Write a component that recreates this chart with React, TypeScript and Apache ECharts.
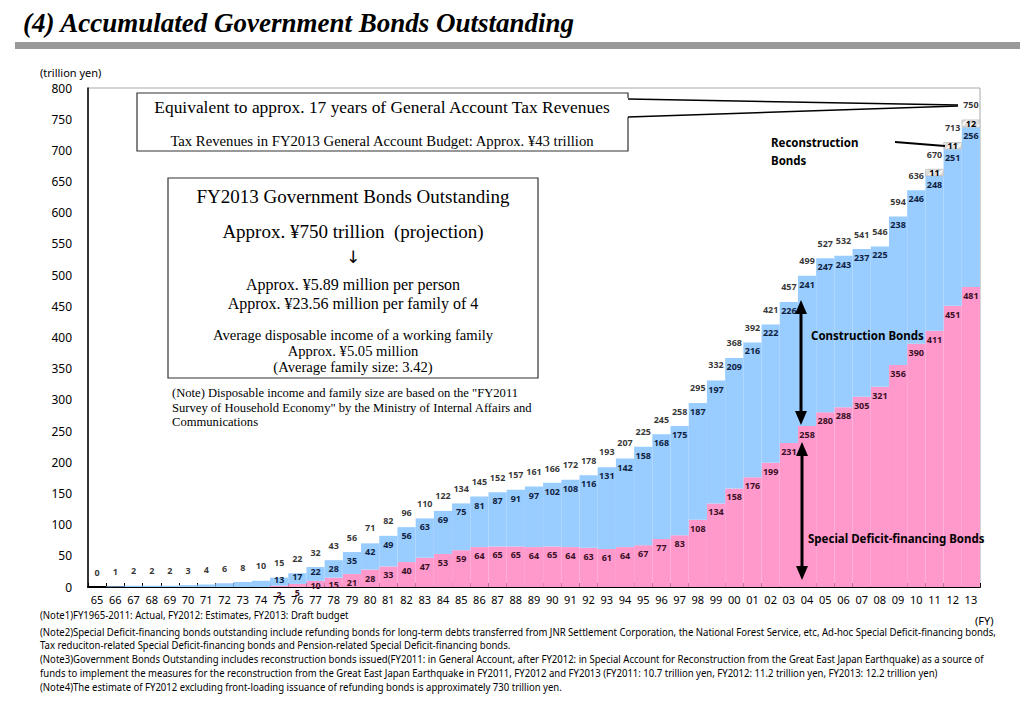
import React, { useEffect, useRef } from "react";
import * as echarts from "echarts";

const years = ["65","66","67","68","69","70","71","72","73","74","75","76","77","78","79","80","81","82","83","84","85","86","87","88","89","90","91","92","93","94","95","96","97","98","99","00","01","02","03","04","05","06","07","08","09","10","11","12","13"];

const totalOutstanding = [0,1,2,2,2,3,4,6,8,10,15,22,32,43,56,71,82,96,110,122,134,145,152,157,161,166,172,178,193,207,225,245,258,295,332,368,392,421,457,499,527,532,541,546,594,636,670,713,750];

const constructionBonds = [0,1,2,2,2,3,4,6,8,10,13,17,22,28,35,42,49,56,63,69,75,81,87,91,97,102,108,116,131,142,158,168,175,187,197,209,216,222,226,241,247,243,237,225,238,246,248,251,256];

const deficitBonds = [0,0,0,0,0,0,0,0,0,0,2,5,10,15,21,28,33,40,47,53,59,64,65,65,64,65,64,63,61,64,67,77,83,108,134,158,176,199,231,258,280,288,305,321,356,390,411,451,481];

const reconstructionBonds = [null,null,null,null,null,null,null,null,null,null,null,null,null,null,null,null,null,null,null,null,null,null,null,null,null,null,null,null,null,null,null,null,null,null,null,null,null,null,null,null,null,null,null,null,null,null,11,11,12];

// first year index (FY1975) from which the breakdown is labelled
const firstLabelledIndex = 10;

const yTicks = { min: 0, max: 800, interval: 50 };

const notes = [
  "(Note1)FY1965-2011: Actual, FY2012: Estimates, FY2013: Draft budget",
  "(Note2)Special Deficit-financing bonds outstanding include refunding bonds for long-term debts transferred from JNR Settlement Corporation, the National Forest Service, etc, Ad-hoc Special Deficit-financing bonds,",
  "Tax reduciton-related Special Deficit-financing bonds and Pension-related Special Deficit-financing bonds.",
  "(Note3)Government Bonds Outstanding includes reconstruction bonds issued(FY2011: in General Account, after FY2012: in Special Account for Reconstruction from the Great East Japan Earthquake) as a source of",
  "funds to implement the measures for the reconstruction from the Great East Japan Earthquake in FY2011, FY2012 and FY2013 (FY2011: 10.7 trillion yen, FY2012: 11.2 trillion yen, FY2013: 12.2 trillion yen)",
  "(Note4)The estimate of FY2012 excluding front-loading issuance of refunding bonds is approximately 730 trillion yen.",
];
const noteY = [615, 632, 645, 659, 673, 687];

const SANS = "Noto Sans";
const SERIF = "Liberation Serif";

function arrow(x: number, y1: number, y2: number) {
  const hw = 6, hh = 14;
  return [
    { type: "line", z: 110, shape: { x1: x, y1: y1 + hh - 2, x2: x, y2: y2 - hh + 2 }, style: { stroke: "#000", lineWidth: 3 } },
    { type: "polygon", z: 110, shape: { points: [[x - hw, y1 + hh], [x, y1], [x + hw, y1 + hh]] }, style: { fill: "#000" } },
    { type: "polygon", z: 110, shape: { points: [[x - hw, y2 - hh], [x, y2], [x + hw, y2 - hh]] }, style: { fill: "#000" } },
  ];
}

function txt(text: string, x: number, y: number, size: number, opts: any = {}) {
  return {
    type: "text",
    z: 120,
    x,
    y,
    scaleX: opts.scaleX || 1,
    style: {
      text,
      fontSize: size,
      fontFamily: opts.family || SERIF,
      fontWeight: opts.weight || "normal",
      fontStyle: opts.style || "normal",
      fill: opts.color || "#000",
      align: opts.align || "left",
      verticalAlign: "middle",
    },
  };
}

export default function App() {
  const ref = useRef<HTMLDivElement>(null);
  useEffect(() => {
    if (!ref.current) return;
    const chart = echarts.init(ref.current, null, { renderer: "svg" });
    const labelFont = { fontFamily: SANS, fontSize: 9, fontWeight: "bold" as const };

    // small segments (early years) carry their label centred in the segment
    const constructionData = constructionBonds.map((v, i) =>
      i >= firstLabelledIndex && totalOutstanding[i] < 35 ? { value: v, label: { position: "inside", offset: [0, -2] } } : v
    );
    const deficitData = deficitBonds.map((v) =>
      v >= 8 && v < 25 ? { value: v, label: { position: "inside", offset: [0, 2] } } : v
    );

    const graphic: any[] = [
      txt("(4) Accumulated Government Bonds Outstanding", 23, 23, 27, { weight: "bold", style: "italic" }),
      { type: "rect", z: 100, shape: { x: 15, y: 42, width: 1005, height: 7 }, style: { fill: "#999" } },
      txt("(trillion yen)", 40, 72, 11, { family: SANS }),
      // box 1
      { type: "rect", z: 100, shape: { x: 137, y: 93, width: 491, height: 58 }, style: { fill: "#fff", stroke: "none" } },
      { type: "polyline", z: 101, shape: { points: [[628, 98], [628, 93], [137, 93], [137, 151], [628, 151], [628, 117]] }, style: { stroke: "#333", lineWidth: 1.2, fill: "none" } },
      { type: "line", z: 101, shape: { x1: 628, y1: 99, x2: 958, y2: 105 }, style: { stroke: "#000", lineWidth: 1.5 } },
      { type: "line", z: 101, shape: { x1: 628, y1: 117, x2: 958, y2: 106 }, style: { stroke: "#000", lineWidth: 1.5 } },
      txt("Equivalent to approx. 17 years of General Account Tax Revenues", 382, 107, 17.4, { align: "center" }),
      txt("Tax Revenues in FY2013 General Account Budget: Approx. ¥43 trillion", 382, 141, 14.7, { align: "center" }),
      // box 2
      { type: "rect", z: 100, shape: { x: 168, y: 178, width: 370, height: 200 }, style: { fill: "#fff", stroke: "#333", lineWidth: 1.2 } },
      txt("FY2013 Government Bonds Outstanding", 353, 196, 19, { align: "center" }),
      txt("Approx. ¥750 trillion  (projection)", 353, 231, 19, { align: "center" }),
      txt("↓", 353, 257, 17, { align: "center", family: "DejaVu Sans" }),
      txt("Approx. ¥5.89 million per person", 353, 284, 16, { align: "center" }),
      txt("Approx. ¥23.56 million per family of 4", 353, 303, 16, { align: "center" }),
      txt("Average disposable income of a working family", 353, 335, 14.6, { align: "center" }),
      txt("Approx. ¥5.05 million", 353, 351, 14.6, { align: "center" }),
      txt("(Average family size: 3.42)", 353, 367, 14.6, { align: "center" }),
      txt("(Note) Disposable income and family size are based on the \"FY2011", 172, 393, 12.6),
      txt("Survey of Household Economy\" by the Ministry of Internal Affairs and", 172, 408, 12.6),
      txt("Communications", 172, 422, 12.6),
      // series annotations
      txt("Reconstruction", 771, 142, 11.5, { family: SANS, weight: "bold" }),
      txt("Bonds", 771, 160, 11.5, { family: SANS, weight: "bold" }),
      { type: "line", z: 110, shape: { x1: 895, y1: 142, x2: 945, y2: 146 }, style: { stroke: "#000", lineWidth: 2 } },
      txt("Construction Bonds", 811, 335, 11.5, { family: SANS, weight: "bold" }),
      txt("Special Deficit-financing Bonds", 808, 538, 11.5, { family: SANS, weight: "bold" }),
      ...arrow(801, 300, 425),
      ...arrow(802, 442, 580),
      txt("(FY)", 975, 620, 11, { family: SANS }),
      ...notes.map((n, i) => txt(n, 40, noteY[i], 10, { family: SANS, scaleX: 0.955 })),
    ];

    chart.setOption({
      animation: false,
      backgroundColor: "#fff",
      textStyle: { fontFamily: SANS },
      grid: { left: 88, right: 48, top: 88, bottom: 121, show: true, borderColor: "#aaa", borderWidth: 1 },
      xAxis: {
        type: "category",
        data: years,
        axisLine: { lineStyle: { color: "#000", width: 2 } },
        axisTick: { show: true, inside: true, length: 4, lineStyle: { color: "#000" } },
        axisLabel: { interval: 0, fontSize: 11, color: "#000", margin: 7, fontFamily: SANS },
      },
      yAxis: {
        type: "value",
        min: yTicks.min,
        max: yTicks.max,
        interval: yTicks.interval,
        axisLine: { show: true, lineStyle: { color: "#000", width: 1.5 } },
        axisTick: { show: false },
        splitLine: { show: false },
        axisLabel: { fontSize: 12, color: "#000", margin: 16, fontFamily: SANS },
      },
      series: [
        {
          name: "Special Deficit-financing Bonds",
          type: "bar",
          stack: "bonds",
          barWidth: "100%",
          barCategoryGap: "0%",
          data: deficitData,
          itemStyle: { color: "#FF99CC" },
          label: {
            show: true,
            position: "insideTop",
            distance: 4,
            color: "#3a0f25",
            ...labelFont,
            formatter: (p: any) => (p.dataIndex >= firstLabelledIndex && p.value > 0 ? String(p.value) : ""),
          },
        },
        {
          name: "Construction Bonds",
          type: "bar",
          stack: "bonds",
          barWidth: "100%",
          barCategoryGap: "0%",
          data: constructionData,
          itemStyle: { color: "#99CCFF" },
          label: {
            show: true,
            position: "insideTop",
            distance: 4,
            color: "#0f1f3f",
            ...labelFont,
            formatter: (p: any) => (p.dataIndex >= firstLabelledIndex ? String(p.value) : ""),
          },
        },
        {
          name: "Reconstruction Bonds",
          type: "bar",
          stack: "bonds",
          barWidth: "100%",
          barCategoryGap: "0%",
          data: reconstructionBonds,
          itemStyle: {
            color: "#dcdcdc",
            borderColor: "#bbb",
            borderWidth: 0.5,
            decal: { symbol: "rect", symbolSize: 1, color: "rgba(255,255,255,0.8)", dashArrayX: [1, 0], dashArrayY: [2, 4], rotation: -Math.PI / 4 },
          },
          label: { show: true, position: "inside", color: "#000", ...labelFont },
        },
        {
          name: "Total",
          type: "scatter",
          data: totalOutstanding,
          symbolSize: 1,
          itemStyle: { color: "rgba(0,0,0,0)" },
          z: 5,
          label: { show: true, position: "top", distance: 10, color: "#000", ...labelFont },
        },
      ],
      graphic,
    });
    return () => chart.dispose();
  }, []);
  return <div ref={ref} style={{ position: "absolute", left: 0, top: 0, width: 1028, height: 708 }} />;
}
